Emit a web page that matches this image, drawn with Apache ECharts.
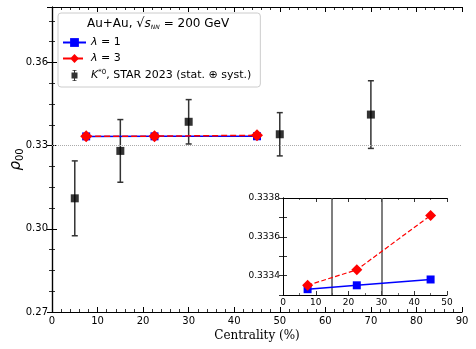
<!DOCTYPE html>
<html>
<head>
<meta charset="utf-8">
<script src="https://cdn.jsdelivr.net/npm/echarts@6/dist/echarts.min.js"></script>
<style>
  html, body { margin: 0; padding: 0; background: #fff; }
  #cnv { width: 476px; height: 349px; }
</style>
</head>
<body>
<div id="cnv"></div>
<script>
// STAR K*0 data
var centrality = [5, 15, 30, 50, 70];
var rhoStar = [0.311, 0.3281, 0.3386, 0.3341, 0.3412];
var errStar = [0.0135, 0.0113, 0.008, 0.0078, 0.0122];
// model curves
var modelX = [7.5, 22.5, 45];
var rhoLam1 = [0.33333, 0.33335, 0.33338];
var rhoLam3 = [0.33335, 0.33343, 0.33371];
// inset ticks
var insetYTicks = [0.3333, 0.3334, 0.3335, 0.3336, 0.3337, 0.3338];
var insetYLabels = [0.3334, 0.3336, 0.3338];
var insetVLines = [15, 30];
var oneThird = 1 / 3;

var names = ['λ = 1', 'λ = 3', 'K*0, STAR 2023 (stat. ⊕ syst.)'];

function pairs(xs, ys) {
  return xs.map(function (x, i) { return [x, ys[i]]; });
}

var main = document.getElementById('cnv');
var myechart = echarts.init(main, null, { renderer: 'canvas' });

var tickFont = { fontFamily: 'DejaVu Sans', fontSize: 10, color: '#000' };
var inTick = { show: true, inside: true, length: 5, lineStyle: { color: '#000', width: 1 } };
var axLine = { show: true, lineStyle: { color: '#000', width: 1.2 } };

function mainX(pos, labels) {
  return {
    type: 'value', gridIndex: 0, position: pos, min: 0, max: 90, interval: 10,
    axisLine: axLine, axisTick: inTick,
    minorTick: { show: true, splitNumber: 5, length: 3, lineStyle: { color: '#000', width: 0.8 } },
    axisLabel: labels ? Object.assign({ margin: 4 }, tickFont) : { show: false },
    splitLine: { show: false }
  };
}
function mainY(pos, labels) {
  return {
    type: 'value', gridIndex: 0, position: pos, min: 0.27, max: 0.38, interval: 0.03,
    axisLine: axLine, axisTick: inTick,
    minorTick: { show: true, splitNumber: 4, length: 3, lineStyle: { color: '#000', width: 0.8 } },
    axisLabel: labels ? Object.assign({ margin: 4, showMaxLabel: false,
      formatter: function (v) { return v.toFixed(2); } }, tickFont) : { show: false },
    splitLine: { show: false }
  };
}

var xMainBottom = mainX('bottom', true);
xMainBottom.name = 'Centrality (%)';
xMainBottom.nameLocation = 'middle';
xMainBottom.nameGap = 18;
xMainBottom.nameMoveOverlap = false;
xMainBottom.nameTextStyle = { fontFamily: 'DejaVu Serif', fontSize: 12, color: '#000' };

var yMainLeft = mainY('left', true);
yMainLeft.name = '{i|ρ}{s|00}';
yMainLeft.nameLocation = 'middle';
yMainLeft.nameGap = 27;
yMainLeft.nameRotate = 90;
yMainLeft.nameMoveOverlap = false;
yMainLeft.nameTextStyle = {
  rich: {
    i: { fontFamily: 'DejaVu Sans', fontStyle: 'italic', fontSize: 15, color: '#000' },
    s: { fontFamily: 'DejaVu Sans', fontSize: 10, color: '#000', padding: [8, 0, 0, 0] }
  }
};

var insetTick = { show: true, inside: true, length: 4, lineStyle: { color: '#000', width: 0.8 } };
var insetLine = { show: true, lineStyle: { color: '#000', width: 1 } };
var insetFont = { fontFamily: 'DejaVu Sans', fontSize: 9, color: '#000', margin: 3 };

function insetX(pos, labels) {
  return {
    type: 'value', gridIndex: 1, position: pos, min: 0, max: 50, interval: 10,
    axisLine: insetLine, axisTick: insetTick,
    minorTick: { show: true, splitNumber: 2, length: 2, lineStyle: { color: '#000', width: 0.6 } },
    axisLabel: labels ? insetFont : { show: false },
    splitLine: { show: false }
  };
}
function insetY(pos, labels) {
  return {
    type: 'value', gridIndex: 1, position: pos, min: 0.3333, max: 0.3338,
    axisLine: insetLine,
    axisTick: Object.assign({ customValues: insetYTicks }, insetTick),
    axisLabel: labels ? Object.assign({ customValues: insetYLabels,
      formatter: function (v) { return v.toFixed(4); } }, insetFont) : { show: false },
    splitLine: { show: false }
  };
}

var starIcon = 'path://M0,0L0.01,0L0,0.01Z M23,11L22.99,11L23,10.99Z ' +
  'M8.5,2.5H14.5V8.5H8.5Z M11,0H12V11H11Z M9.5,0H13.5V0.8H9.5Z M9.5,10.2H13.5V11H9.5Z';

var option = {
  animation: false,
  backgroundColor: '#fff',
  grid: [
    { left: 52, right: 14, top: 7, bottom: 37, outerBoundsMode: 'none', containLabel: false },
    { left: 283, right: 29, top: 198, bottom: 54, outerBoundsMode: 'none', containLabel: false }
  ],
  xAxis: [mainX('bottom', true), mainX('top', false), insetX('bottom', true), insetX('top', false)],
  yAxis: [mainY('left', true), mainY('right', false), insetY('left', true), insetY('right', false)],
  legend: {
    left: 58, top: 13, orient: 'vertical',
    data: [
      { name: names[0] },
      { name: names[1] },
      { name: names[2], icon: starIcon, itemStyle: { color: '#000' } }
    ],
    itemWidth: 23, itemHeight: 11, itemGap: 5,
    padding: [24, 9, 6, 4],
    backgroundColor: '#fff', borderColor: '#ccc', borderWidth: 1, borderRadius: 3,
    formatter: function (name) {
      if (name === names[0]) return '{i|λ} = 1';
      if (name === names[1]) return '{i|λ} = 3';
      return '{i|K}{sup|*0}, STAR 2023 (stat. ⊕ syst.)';
    },
    textStyle: {
      fontFamily: 'DejaVu Sans', fontSize: 11, color: '#000',
      rich: {
        i: { fontFamily: 'DejaVu Sans', fontStyle: 'italic', fontSize: 11, color: '#000' },
        sup: { fontFamily: 'DejaVu Sans', fontSize: 7, color: '#000', padding: [0, 0, 6, 0] }
      }
    }
  },
  graphic: [{
    type: 'text', left: 87, top: 17, z: 100, zlevel: 1,
    style: {
      text: 'Au+Au, {r|√}{o|s}{sub|NN} = 200 GeV',
      fontFamily: 'DejaVu Sans', fontSize: 12, fill: '#000',
      rich: {
        r: { fontFamily: 'DejaVu Sans', fontSize: 13, fill: '#000' },
        o: { fontFamily: 'DejaVu Sans', fontStyle: 'italic', fontSize: 12, fill: '#000' },
        sub: { fontFamily: 'DejaVu Sans', fontStyle: 'italic', fontSize: 6, fill: '#000', padding: [7, 0, 0, 0] }
      }
    }
  }],
  series: [
    {
      name: 'errbar', type: 'custom', xAxisIndex: 0, yAxisIndex: 0, silent: true, z: 3,
      data: centrality.map(function (x, i) { return [x, rhoStar[i] - errStar[i], rhoStar[i] + errStar[i]]; }),
      renderItem: function (params, api) {
        var lo = api.coord([api.value(0), api.value(1)]);
        var hi = api.coord([api.value(0), api.value(2)]);
        var st = { stroke: '#333', lineWidth: 1.5 };
        return {
          type: 'group',
          children: [
            { type: 'line', shape: { x1: lo[0], y1: lo[1], x2: hi[0], y2: hi[1] }, style: st },
            { type: 'line', shape: { x1: lo[0] - 3, y1: lo[1], x2: lo[0] + 3, y2: lo[1] }, style: st },
            { type: 'line', shape: { x1: hi[0] - 3, y1: hi[1], x2: hi[0] + 3, y2: hi[1] }, style: st }
          ]
        };
      },
      markLine: {
        silent: true, symbol: 'none', label: { show: false },
        lineStyle: { color: '#aaa', type: 'dotted', width: 1 },
        data: [{ yAxis: oneThird }]
      }
    },
    {
      name: names[2], type: 'scatter', xAxisIndex: 0, yAxisIndex: 0, z: 4,
      symbol: 'rect', symbolSize: 8, itemStyle: { color: '#000' },
      data: pairs(centrality, rhoStar)
    },
    {
      name: names[0], type: 'line', xAxisIndex: 0, yAxisIndex: 0, z: 5,
      symbol: 'rect', symbolSize: 8,
      itemStyle: { color: '#0000ff' }, lineStyle: { color: '#0000ff', width: 1.5 },
      data: pairs(modelX, rhoLam1)
    },
    {
      name: names[1], type: 'line', xAxisIndex: 0, yAxisIndex: 0, z: 6,
      symbol: 'diamond', symbolSize: 12,
      itemStyle: { color: '#ff0000' }, lineStyle: { color: '#ff0000', width: 1.5, type: 'dashed' },
      data: pairs(modelX, rhoLam3)
    },
    {
      name: 'inset1', type: 'line', xAxisIndex: 2, yAxisIndex: 2, z: 5,
      symbol: 'rect', symbolSize: 8,
      itemStyle: { color: '#0000ff' }, lineStyle: { color: '#0000ff', width: 1.5 },
      data: pairs(modelX, rhoLam1),
      markLine: {
        silent: true, symbol: 'none', label: { show: false },
        data: [
          { yAxis: oneThird, lineStyle: { color: '#aaa', type: 'dotted', width: 1 } },
          { xAxis: insetVLines[0], lineStyle: { color: '#555', type: 'solid', width: 1.5 } },
          { xAxis: insetVLines[1], lineStyle: { color: '#555', type: 'solid', width: 1.5 } }
        ]
      }
    },
    {
      name: 'inset3', type: 'line', xAxisIndex: 2, yAxisIndex: 2, z: 6,
      symbol: 'diamond', symbolSize: 11,
      itemStyle: { color: '#ff0000' }, lineStyle: { color: '#ff0000', width: 1.2, type: 'dashed' },
      data: pairs(modelX, rhoLam3)
    }
  ]
};
option.xAxis[0] = xMainBottom;
option.yAxis[0] = yMainLeft;
myechart.setOption(option);
</script>
</body>
</html>
